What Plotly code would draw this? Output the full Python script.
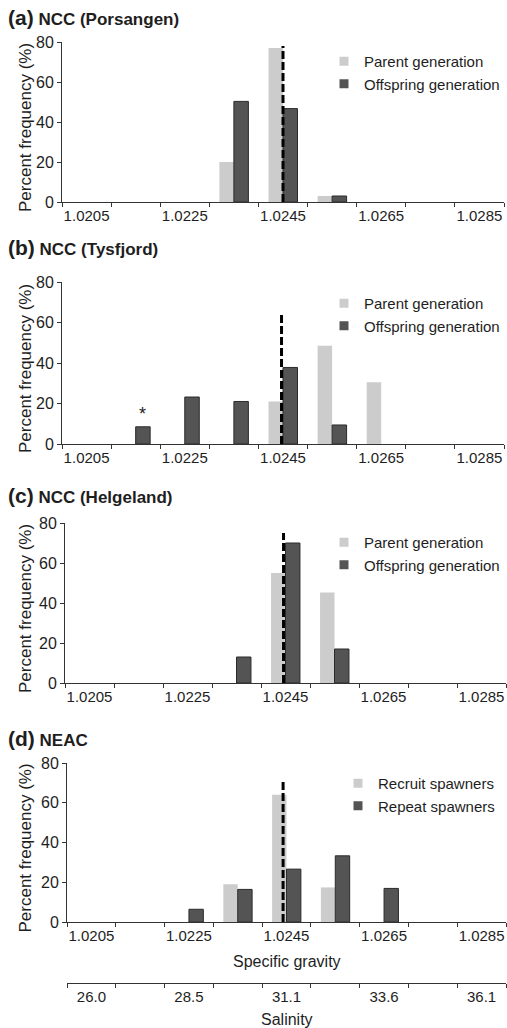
import plotly.graph_objects as go

# ---------------- data ----------------
sg_bins = [1.0205, 1.0215, 1.0225, 1.0235, 1.0245, 1.0255, 1.0265, 1.0275, 1.0285]
sg_tick_vals = [1.0205, 1.0225, 1.0245, 1.0265, 1.0285]
sg_tick_text = ["1.0205", "1.0225", "1.0245", "1.0265", "1.0285"]
salinity_tick_text = ["26.0", "28.5", "31.1", "33.6", "36.1"]

panel_letters = ["(a)", "(b)", "(c)", "(d)"]
panel_names = ["NCC (Porsangen)", "NCC (Tysfjord)", "NCC (Helgeland)", "NEAC"]
light_names = ["Parent generation", "Parent generation", "Parent generation", "Recruit spawners"]
dark_names = ["Offspring generation", "Offspring generation", "Offspring generation", "Repeat spawners"]

a_parent = [None, None, None, 20, 77, 3, None, None, None]
a_offspring = [None, None, None, 50.3, 46.7, 3, None, None, None]
b_parent = [None, None, None, None, 21, 48.5, 30.5, None, None]
b_offspring = [None, 8.5, 23.2, 21, 37.8, 9.4, None, None, None]
c_parent = [None, None, None, None, 55, 45.3, None, None, None]
c_offspring = [None, None, None, 13, 70, 17, None, None, None]
d_recruit = [None, None, None, 19, 64, 17.4, None, None, None]
d_repeat = [None, None, 6.4, 16.4, 26.6, 33.3, 16.9, None, None]

light_series = [a_parent, b_parent, c_parent, d_recruit]
dark_series = [a_offspring, b_offspring, c_offspring, d_repeat]

mean_sg = [1.0245, 1.02447, 1.02446, 1.02443]
mean_line_top = [78, 64, 75, 71]

# ---------------- layout geometry ----------------
W, H = 507, 1028
LIGHT = "#cccccc"
DARK = "#545454"
AXC = "#333333"
TXT = "#1e1e1e"
FONT = "Liberation Sans, Arial, sans-serif"

# pixel positions: (plot top, plot bottom, left, right)
panels_px = [(42, 202, 62, 504), (282, 444, 62, 504), (523, 683, 65, 506), (763, 922, 67, 506)]
title_y_px = [17, 247, 495, 738]
legend_top_px = [45, 287, 526, 767]
legend_right_px = [505, 505, 505, 500]


def fy(px):
    return 1 - px / H


def fx(px):
    return px / W


fig = go.Figure()
annotations = []
layout = {}

for i in range(4):
    n = i + 1
    xa = "x" if n == 1 else f"x{n}"
    ya = "y" if n == 1 else f"y{n}"
    lg = "legend" if n == 1 else f"legend{n}"
    fig.add_trace(go.Bar(x=sg_bins, y=light_series[i], name=light_names[i],
                         marker=dict(color=LIGHT, line=dict(width=0)),
                         xaxis=xa, yaxis=ya, showlegend=False))
    fig.add_trace(go.Bar(x=sg_bins, y=dark_series[i], name=dark_names[i],
                         marker=dict(color=DARK, line=dict(width=1, color="#2b2b2b")),
                         xaxis=xa, yaxis=ya, showlegend=False))
    # legend keys (small squares as in the reference)
    fig.add_trace(go.Scatter(x=[None], y=[None], mode="markers", name=light_names[i],
                             marker=dict(symbol="square", size=9, color=LIGHT),
                             xaxis=xa, yaxis=ya, legend=lg))
    fig.add_trace(go.Scatter(x=[None], y=[None], mode="markers", name=dark_names[i],
                             marker=dict(symbol="square", size=9, color=DARK),
                             xaxis=xa, yaxis=ya, legend=lg))
    fig.add_trace(go.Scatter(x=[mean_sg[i], mean_sg[i]], y=[0, mean_line_top[i]],
                             mode="lines", line=dict(color="black", width=3, dash="8px,3px"),
                             showlegend=False, hoverinfo="skip", xaxis=xa, yaxis=ya))

    top, bot, left, right = panels_px[i]
    layout[f"xaxis{n}" if n > 1 else "xaxis"] = dict(
        domain=[fx(left), fx(right)], anchor=ya, range=[1.0200, 1.0290],
        tickvals=sg_tick_vals, ticktext=sg_tick_text, ticks="",
        showline=True, linecolor=AXC, linewidth=1, showgrid=False, zeroline=False,
        tickfont=dict(size=15, color=TXT, family=FONT),
        minor=dict(tick0=1.0200, dtick=0.001, ticks="outside", ticklen=4,
                   tickcolor=AXC, showgrid=False),
        automargin=False, fixedrange=True,
    )
    layout[f"yaxis{n}" if n > 1 else "yaxis"] = dict(
        domain=[fy(bot), fy(top)], anchor=xa, range=[0, 80], dtick=20,
        ticks="outside", ticklen=4, tickcolor=AXC,
        showline=True, linecolor=AXC, linewidth=1, showgrid=False, zeroline=False,
        tickfont=dict(size=16, color=TXT, family=FONT), automargin=False, fixedrange=True,
    )
    layout[lg] = dict(x=fx(legend_right_px[i]), y=fy(legend_top_px[i]), xanchor="right", yanchor="top",
                      bgcolor="rgba(0,0,0,0)", font=dict(size=15, color=TXT, family=FONT),
                      itemwidth=30, tracegroupgap=0, borderwidth=0)

    annotations.append(dict(
        x=fx(6), y=fy(title_y_px[i]), xref="paper", yref="paper", xanchor="left", yanchor="middle",
        showarrow=False,
        text=f"<b><span style='font-size:21px'>{panel_letters[i]}</span> {panel_names[i]}</b>",
        font=dict(size=17, color=TXT, family=FONT)))
    annotations.append(dict(
        x=fx(25), y=fy((top + bot) / 2 + 6), xref="paper", yref="paper", xanchor="center",
        yanchor="middle", showarrow=False, textangle=-90, text="Percent frequency (%)",
        font=dict(size=17, color=TXT, family=FONT)))

# asterisk over the first offspring bar of panel (b)
annotations.append(dict(x=sg_bins[1], y=b_offspring[1], xref="x2", yref="y2", xshift=7, yshift=1,
                        yanchor="bottom", showarrow=False, text="*",
                        font=dict(size=18, color=TXT, family=FONT)))

# x titles
annotations.append(dict(x=fx(287), y=fy(961), xref="paper", yref="paper", showarrow=False,
                        xanchor="center", yanchor="middle",
                        text="Specific gravity", font=dict(size=16, color=TXT, family=FONT)))
annotations.append(dict(x=fx(287), y=fy(1019), xref="paper", yref="paper", showarrow=False,
                        xanchor="center", yanchor="middle",
                        text="Salinity", font=dict(size=16, color=TXT, family=FONT)))

# secondary salinity axis under panel (d)
fig.add_trace(go.Scatter(x=sg_tick_vals, y=[None] * len(sg_tick_vals), xaxis="x5", yaxis="y4",
                         showlegend=False, hoverinfo="skip", mode="markers"))
layout["xaxis5"] = dict(
    overlaying="x4", anchor="free", position=fy(983), side="bottom",
    domain=[fx(67), fx(506)], range=[1.0200, 1.0290],
    tickvals=sg_tick_vals, ticktext=salinity_tick_text, ticks="",
    showline=True, linecolor=AXC, linewidth=1, showgrid=False, zeroline=False,
    tickfont=dict(size=15, color=TXT, family=FONT),
    minor=dict(tick0=1.0200, dtick=0.001, ticks="outside", ticklen=4, tickcolor=AXC, showgrid=False),
    automargin=False, fixedrange=True,
)

fig.update_layout(
    width=W, height=H, autosize=False, margin=dict(l=0, r=0, t=0, b=0),
    paper_bgcolor="white", plot_bgcolor="white",
    barmode="group", bargap=0.41, bargroupgap=0,
    annotations=annotations, font=dict(family=FONT, color=TXT),
    **layout,
)

fig.write_html(
    "out.html", config={"displayModeBar": False, "responsive": False},
    post_script=("document.documentElement.style.margin='0';"
                 "document.documentElement.style.overflow='hidden';"
                 "document.body.style.margin='0';document.body.style.padding='0';"
                 "document.body.style.overflow='hidden';"
                 "document.querySelectorAll('.plotly-graph-div, .svg-container, .main-svg')"
                 ".forEach(function(e){e.style.overflow='hidden';});"),
)
